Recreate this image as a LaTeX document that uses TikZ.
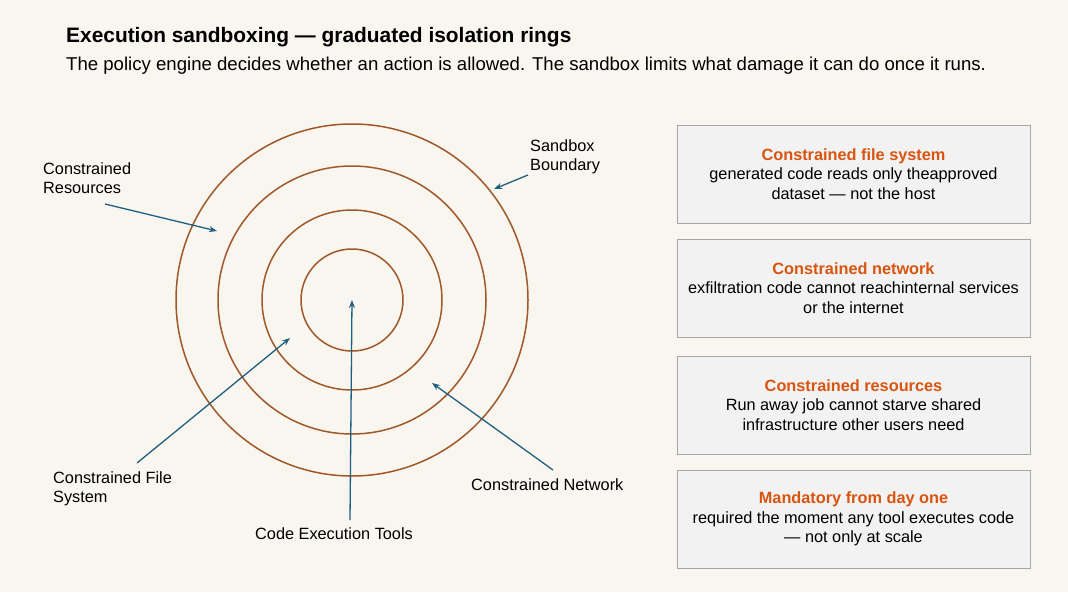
\documentclass[tikz,border=0pt]{standalone}
\usepackage{fontspec}
\setmainfont{Liberation Sans}
\usetikzlibrary{arrows.meta}
\definecolor{bg}{HTML}{F9F5EF}
\definecolor{ring}{HTML}{A0592A}
\definecolor{arr}{HTML}{1F5F7F}
\definecolor{ttl}{HTML}{D9540F}
\definecolor{boxf}{HTML}{F2F2F2}
\definecolor{boxd}{HTML}{A6A6A6}
\begin{document}
\begin{tikzpicture}[x=1pt,y=-1pt,
  ringc/.style={draw=ring,line width=1.5pt},
  lbl/.style={font=\fontsize{16.3}{19}\selectfont,align=left,inner sep=0},
  pt/.style={-{Stealth[length=8pt,width=6pt]},draw=arr,line width=1.3pt},
  box/.style={draw=boxd,fill=boxf,line width=0.8pt,minimum width=353pt,minimum height=98pt,align=center,inner sep=0,font=\fontsize{16.3}{19.5}\selectfont}]
\fill[bg] (0,0) rectangle (1068,592);
\useasboundingbox (0,0) rectangle (1068,592);
\node[anchor=west,inner sep=0,font=\bfseries\fontsize{20.9}{24}\selectfont] (title) at (66,37) {Execution sandboxing — graduated isolation rings};
\node[anchor=west,inner sep=0,font=\fontsize{18.6}{22}\selectfont] (sub) at (66,66) {The policy engine decides whether an action is allowed. The sandbox limits what damage it can do once it runs.};
\coordinate (c) at (352,300);
\node[ringc,circle,minimum size=352pt,inner sep=0] (r4) at (c) {};
\node[ringc,circle,minimum size=268pt,inner sep=0] (r3) at (c) {};
\node[ringc,circle,minimum size=180pt,inner sep=0] (r2) at (c) {};
\node[ringc,circle,minimum size=102pt,inner sep=0] (r1) at (c) {};
\coordinate (tRes) at (217,231);
\coordinate (tBnd) at (494,189);
\coordinate (tFs) at (290,338);
\coordinate (tCode) at (352,300);
\coordinate (tNet) at (432,383);
\node[lbl,anchor=north west] (lRes) at (43,162) {Constrained\\Resources};
\node[lbl,anchor=north west] (lBnd) at (530,139) {Sandbox\\Boundary};
\node[lbl,anchor=north west] (lFs) at (53,471) {Constrained File\\System};
\node[lbl,anchor=north] (lCode) at (334,527) {Code Execution Tools};
\node[lbl,anchor=north west] (lNet) at (471,478) {Constrained Network};
\coordinate (sRes) at (105,204);
\coordinate (sBnd) at (528,175);
\coordinate (sFs) at (137,463);
\coordinate (sCode) at (350,520);
\coordinate (sNet) at (553,470);
\draw[pt] (sRes) -- (tRes);
\draw[pt] (sBnd) -- (tBnd);
\draw[pt] (sFs) -- (tFs);
\draw[pt] (sCode) -- (tCode);
\draw[pt] (sNet) -- (tNet);
\node[box] (b1) at (853.5,174) {\textcolor{ttl}{\bfseries Constrained file system}\\generated code reads only theapproved\\dataset — not the host};
\node[box] (b2) at (853.5,288) {\textcolor{ttl}{\bfseries Constrained network}\\exfiltration code cannot reachinternal services\\or the internet};
\node[box] (b3) at (853.5,405) {\textcolor{ttl}{\bfseries Constrained resources}\\Run away job cannot starve shared\\infrastructure other users need};
\node[box] (b4) at (853.5,519) {\textcolor{ttl}{\bfseries Mandatory from day one}\\required the moment any tool executes code\\— not only at scale};
\end{tikzpicture}
\end{document}
